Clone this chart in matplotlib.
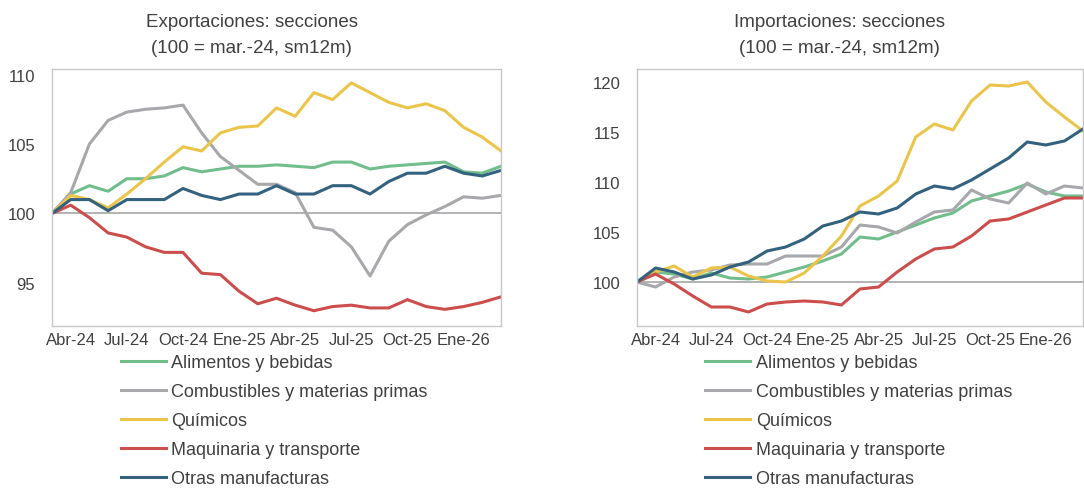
import matplotlib
matplotlib.use("Agg")
import matplotlib.pyplot as plt

plt.rcParams['font.family'] = ['Liberation Sans', 'DejaVu Sans']

# === Datos (100 = mar.-24, sm12m), mar.-24 .. mar.-26 ===
meses = ['Mar-24', 'Abr-24', 'May-24', 'Jun-24', 'Jul-24', 'Ago-24', 'Sep-24', 'Oct-24', 'Nov-24',
         'Dic-24', 'Ene-25', 'Feb-25', 'Mar-25', 'Abr-25', 'May-25', 'Jun-25', 'Jul-25', 'Ago-25',
         'Sep-25', 'Oct-25', 'Nov-25', 'Dic-25', 'Ene-26', 'Feb-26', 'Mar-26']
ticks_x = ['Abr-24', 'Jul-24', 'Oct-24', 'Ene-25', 'Abr-25', 'Jul-25', 'Oct-25', 'Ene-26']

series = ['Alimentos y bebidas', 'Combustibles y materias primas', 'Químicos',
          'Maquinaria y transporte', 'Otras manufacturas']
colores = ['#71BD8C', '#A7A8AC', '#EAC54A', '#CB4E4D', '#33627E']

# Exportaciones
exp_alimentos = [100, 101.4, 102.0, 101.6, 102.5, 102.5, 102.7, 103.3, 103.0, 103.2, 103.4, 103.4, 103.5,
                 103.4, 103.3, 103.7, 103.7, 103.2, 103.4, 103.5, 103.6, 103.7, 103.0, 102.9, 103.4]
exp_combustibles = [100, 101.5, 105.0, 106.7, 107.3, 107.5, 107.6, 107.8, 105.8, 104.1, 103.1, 102.1, 102.1,
                    101.5, 99.0, 98.8, 97.6, 95.5, 98.0, 99.2, 99.9, 100.5, 101.2, 101.1, 101.3]
exp_quimicos = [100, 101.3, 101.0, 100.4, 101.4, 102.5, 103.7, 104.8, 104.5, 105.8, 106.2, 106.3, 107.6,
                107.0, 108.7, 108.2, 109.4, 108.7, 108.0, 107.6, 107.9, 107.4, 106.2, 105.5, 104.5]
exp_maquinaria = [100, 100.6, 99.7, 98.6, 98.3, 97.6, 97.2, 97.2, 95.7, 95.6, 94.4, 93.5, 93.9,
                  93.4, 93.0, 93.3, 93.4, 93.2, 93.2, 93.8, 93.3, 93.1, 93.3, 93.6, 94.0]
exp_otras = [100, 101.0, 101.0, 100.2, 101.0, 101.0, 101.0, 101.8, 101.3, 101.0, 101.4, 101.4, 102.0,
             101.4, 101.4, 102.0, 102.0, 101.4, 102.3, 102.9, 102.9, 103.4, 102.9, 102.7, 103.1]

# Importaciones
imp_alimentos = [100, 101.0, 100.8, 100.3, 100.9, 100.4, 100.3, 100.5, 101.0, 101.5, 102.1, 102.8, 104.5,
                 104.3, 105.0, 105.7, 106.4, 106.9, 108.1, 108.6, 109.1, 109.8, 109.0, 108.6, 108.6]
imp_combustibles = [100, 99.5, 100.5, 101.0, 101.2, 101.7, 101.8, 101.8, 102.6, 102.6, 102.6, 103.5, 105.7,
                    105.5, 104.9, 106.0, 107.0, 107.2, 109.2, 108.3, 107.9, 109.9, 108.8, 109.6, 109.4]
imp_quimicos = [100, 101.0, 101.6, 100.5, 101.4, 101.5, 100.6, 100.1, 100.0, 100.9, 102.6, 104.6, 107.6,
                108.6, 110.1, 114.5, 115.8, 115.2, 118.1, 119.7, 119.6, 120.0, 118.0, 116.5, 115.1]
imp_maquinaria = [100, 100.8, 99.8, 98.6, 97.5, 97.5, 97.0, 97.8, 98.0, 98.1, 98.0, 97.7, 99.3,
                  99.5, 101.0, 102.3, 103.3, 103.5, 104.6, 106.1, 106.3, 107.0, 107.7, 108.4, 108.4]
imp_otras = [100, 101.4, 101.0, 100.3, 100.7, 101.5, 102.0, 103.1, 103.5, 104.3, 105.6, 106.1, 107.0,
             106.8, 107.4, 108.8, 109.6, 109.3, 110.2, 111.3, 112.4, 114.0, 113.7, 114.1, 115.3]

exportaciones = [exp_alimentos, exp_combustibles, exp_quimicos, exp_maquinaria, exp_otras]
importaciones = [imp_alimentos, imp_combustibles, imp_quimicos, imp_maquinaria, imp_otras]

# === Figura ===
fig = plt.figure(figsize=(10.84, 4.89), dpi=100)
ax1 = fig.add_axes([52 / 1084, 1 - 327 / 489, 449 / 1084, 257 / 489])
ax2 = fig.add_axes([637 / 1084, 1 - 327 / 489, 446 / 1084, 257 / 489])

texto = '#404040'


def dibujar(ax, datos, titulo, ylim, yticks, titulo_x):
    x = list(range(len(meses)))
    ax.axhline(100, color='#A6A6A6', lw=1.2, zorder=1)
    for vals, nombre, c in zip(datos, series, colores):
        ax.plot(x, vals, color=c, lw=2.2, label=nombre, zorder=2)
    ax.set_xlim(0, len(meses) - 1)
    ax.set_ylim(*ylim)
    ax.set_yticks(yticks)
    ax.set_xticks([meses.index(t) for t in ticks_x])
    ax.set_xticklabels(ticks_x)
    ax.tick_params(length=0, labelsize=12, colors=texto, pad=4)
    ax.tick_params(axis='y', pad=12)
    for s in ax.spines.values():
        s.set_color('#C8C8C8')
        s.set_linewidth(1.0)
    ax.set_title(titulo, fontsize=13.5, color=texto, linespacing=1.7, pad=12, x=titulo_x)
    ax.legend(loc='upper left', bbox_to_anchor=(0.133, -0.075), frameon=False,
              fontsize=13, labelcolor=texto, handlelength=2.5, handletextpad=0.3,
              labelspacing=0.66, borderpad=0)


dibujar(ax1, exportaciones, 'Exportaciones: secciones\n(100 = mar.-24, sm12m)',
        (91.9, 110.4), [95, 100, 105, 110], 0.445)
dibujar(ax2, importaciones, 'Importaciones: secciones\n(100 = mar.-24, sm12m)',
        (95.6, 121.3), [100, 105, 110, 115, 120], 0.453)

fig.savefig('out.png', dpi=100)
